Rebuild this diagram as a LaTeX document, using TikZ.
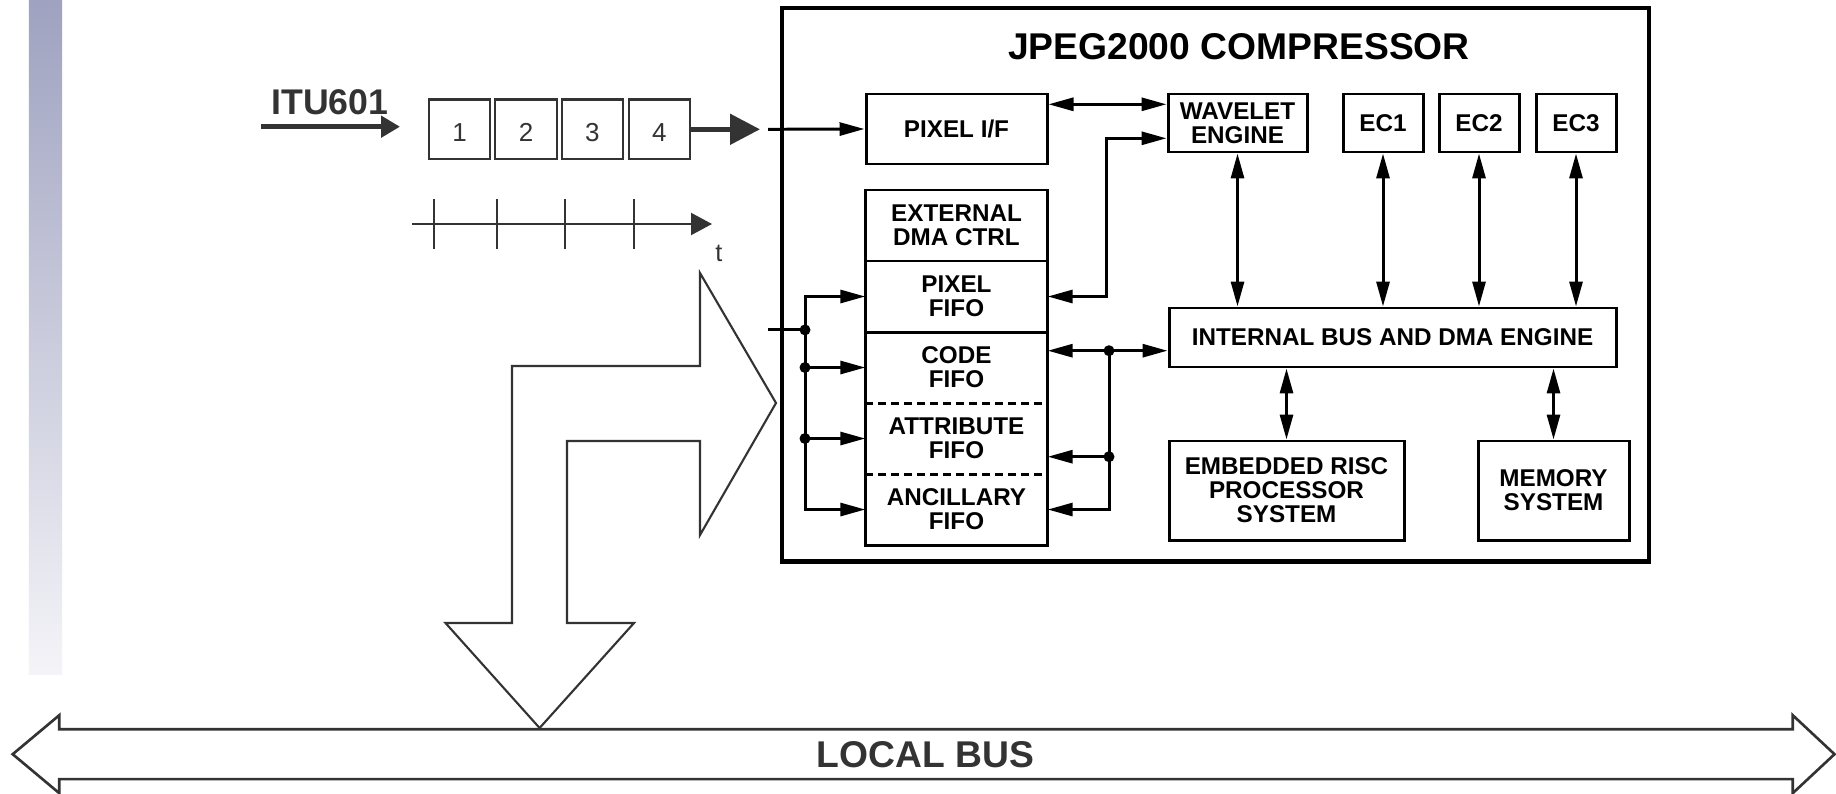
\documentclass[tikz,border=0pt]{standalone}
\usepackage{fontspec}
\setmainfont{Liberation Sans}
\usetikzlibrary{positioning, arrows.meta, calc}

\definecolor{ink}{HTML}{333333}
\definecolor{stripetop}{HTML}{9FA2C0}
\definecolor{stripebot}{HTML}{F4F4F8}

\begin{document}
\begin{tikzpicture}[
  >={Triangle[length=0.25cm,width=0.13cm]},
  boxfont/.style={font=\fontsize{6.9}{6.8}\selectfont\bfseries},
  blk/.style={draw, line width=0.85pt, boxfont, align=center, inner sep=0pt},
  ecblk/.style={blk, minimum width=0.80cm, minimum height=0.58cm},
  seg/.style={boxfont, align=center, inner sep=0pt,
              minimum width=1.81cm, minimum height=0.696cm},
  cell/.style={draw=ink, line width=0.6pt, text=ink, inner sep=0pt,
               minimum width=0.615cm, minimum height=0.595cm,
               text height=0.25cm, font=\fontsize{7.4}{7.4}\selectfont},
  wire/.style={line width=0.85pt},
  hollow/.style={draw=ink, fill=white, line width=0.6pt, line join=miter},
  bigtext/.style={font=\fontsize{10.6}{10}\selectfont\bfseries, inner sep=0pt}
]
\useasboundingbox (0,0) rectangle (18.36,7.93);
\fill[white] (0,0) rectangle (18.36,7.93);

% ---- side stripe ----
\shade[top color=stripetop, bottom color=stripebot] (0.29,1.19) rectangle (0.62,7.93);

% ---- ITU601 input and sample cells ----
\node[bigtext, font=\fontsize{10.15}{10}\selectfont\bfseries, text=ink] (itu) at (3.30,6.905) {ITU601};
\coordinate (ituin) at (2.61,6.663);
\coordinate (ituout) at (4.00,6.663);
\draw[ink, line width=1.5pt, -{Triangle[length=0.19cm,width=0.21cm]}] (ituin) -- (ituout);

\foreach \i/\x in {1/4.595, 2/5.26, 3/5.923, 4/6.594}
  \node[cell] (c\i) at (\x,6.637) {\i};

\coordinate (pxin) at (7.60,6.637);
\draw[ink, line width=1.45pt, -{Triangle[length=0.30cm,width=0.30cm]}] (c4.east) -- (pxin);

% ---- time axis ----
\coordinate (t0) at (4.12,5.69);
\coordinate (t1) at (7.12,5.69);
\draw[ink, line width=0.6pt, -{Triangle[length=0.21cm,width=0.22cm]}] (t0) -- (t1);
\foreach \x in {4.337, 4.974, 5.648, 6.342}
  \draw[ink, line width=0.6pt] (\x,5.44) -- (\x,5.94);
\node[text=ink, font=\fontsize{7.2}{7.2}\selectfont, inner sep=0pt] (tlab) at (7.19,5.40) {t};

% ---- bent hollow arrow ----
\draw[hollow] (7.00,5.20) -- (7.76,3.90) -- (7.00,2.58) -- (7.00,3.52)
  -- (5.67,3.52) -- (5.67,1.70) -- (6.34,1.70) -- (5.396,0.65)
  -- (4.455,1.70) -- (5.12,1.70) -- (5.12,4.27) -- (7.00,4.27) -- cycle;

% ---- local bus ----
\draw[hollow, line width=0.75pt] (0.127,0.388) -- (0.593,0.778) -- (0.593,0.637)
  -- (17.927,0.637) -- (17.927,0.778) -- (18.345,0.388) -- (17.927,-0.002)
  -- (17.927,0.139) -- (0.593,0.139) -- (0.593,-0.002) -- cycle;
\node[bigtext, text=ink] (lbus) at (9.255,0.385) {LOCAL BUS};

% ---- compressor ----
\node[draw, line width=1.2pt, inner sep=0pt, minimum width=8.67cm,
      minimum height=5.535cm] (jpeg) at (12.155,5.0825) {};
\node[bigtext] (title) at (12.39,7.465) {JPEG2000 COMPRESSOR};

\node[blk, minimum width=1.81cm, minimum height=0.70cm] (pixif) at (9.565,6.64) {PIXEL I/F};
\node[blk, minimum width=1.39cm, minimum height=0.58cm] (wav) at (12.375,6.70) {WAVELET\\ENGINE};
\node[ecblk] (ec1) at (13.83,6.70) {EC1};
\node[ecblk] (ec2) at (14.79,6.70) {EC2};
\node[ecblk] (ec3) at (15.76,6.70) {EC3};
\node[blk, minimum width=4.47cm, minimum height=0.59cm] (ibus) at (13.925,4.555)
  {INTERNAL BUS AND DMA ENGINE};
\node[blk, minimum width=2.35cm, minimum height=0.99cm] (risc) at (12.865,3.025)
  {EMBEDDED RISC\\PROCESSOR\\SYSTEM};
\node[blk, minimum width=1.51cm, minimum height=0.99cm] (mem) at (15.535,3.025)
  {MEMORY\\SYSTEM};

% FIFO stack
\node[seg] (extdma) at (9.565,5.675) {EXTERNAL\\DMA CTRL};
\node[seg, below=0pt of extdma] (pixfifo) {PIXEL\\FIFO};
\node[seg, below=0pt of pixfifo] (codefifo) {CODE\\FIFO};
\node[seg, below=0pt of codefifo] (attrfifo) {ATTRIBUTE\\FIFO};
\node[seg, below=0pt of attrfifo] (ancfifo) {ANCILLARY\\FIFO};
\draw[line width=0.85pt] (extdma.north west) rectangle (ancfifo.south east);
\draw[line width=0.85pt] (pixfifo.north west) -- (pixfifo.north east);
\draw[line width=0.85pt] (codefifo.north west) -- (codefifo.north east);
\draw[line width=0.85pt, dash pattern=on 0.08cm off 0.05cm]
  (attrfifo.north west) -- (attrfifo.north east);
\draw[line width=0.85pt, dash pattern=on 0.08cm off 0.05cm]
  (ancfifo.north west) -- (ancfifo.north east);

% ---- connections ----
\coordinate (pxin0) at (7.68,6.637);
\draw[wire,->] (pxin0) -- (pixif.west);

\coordinate (pw) at ([yshift=0.247cm]pixif.east);
\draw[wire,<->] (pw) -- (pw -| wav.west);
\coordinate (wp) at ([yshift=-0.153cm]wav.west);
\draw[wire,<->] (wp) -- ++(-0.60,0) |- (pixfifo.east);

\foreach \n in {wav,ec1,ec2,ec3}
  \draw[wire,<->] (\n.south) -- (\n.south |- ibus.north);
\foreach \n in {risc,mem}
  \draw[wire,<->] (ibus.south -| \n.north) -- (\n.north);

% left side of the FIFOs
\coordinate (fifoin) at (7.68,4.631);
\coordinate (fj) at (8.05,4.631);
\draw[wire] (fifoin) -- (fj);
\draw[wire,->] (fj) |- (pixfifo.west);
\draw[wire,->] (fj) |- (ancfifo.west);
\draw[wire,->] (fj |- codefifo.west) -- (codefifo.west);
\draw[wire,->] (fj |- attrfifo.west) -- (attrfifo.west);
\fill (fj) circle (0.055);
\fill (fj |- codefifo.west) circle (0.055);
\fill (fj |- attrfifo.west) circle (0.055);

% right side of the FIFOs
\coordinate (rj) at (11.09,4.423);
\coordinate (rj2) at (11.09,3.363);
\draw[wire,<->] (rj -| codefifo.east) -- (rj -| ibus.west);
\draw[wire,->] (rj) |- (ancfifo.east);
\draw[wire,->] (rj2) -- (rj2 -| attrfifo.east);
\fill (rj) circle (0.055);
\fill (rj2) circle (0.055);

\end{tikzpicture}
\end{document}
